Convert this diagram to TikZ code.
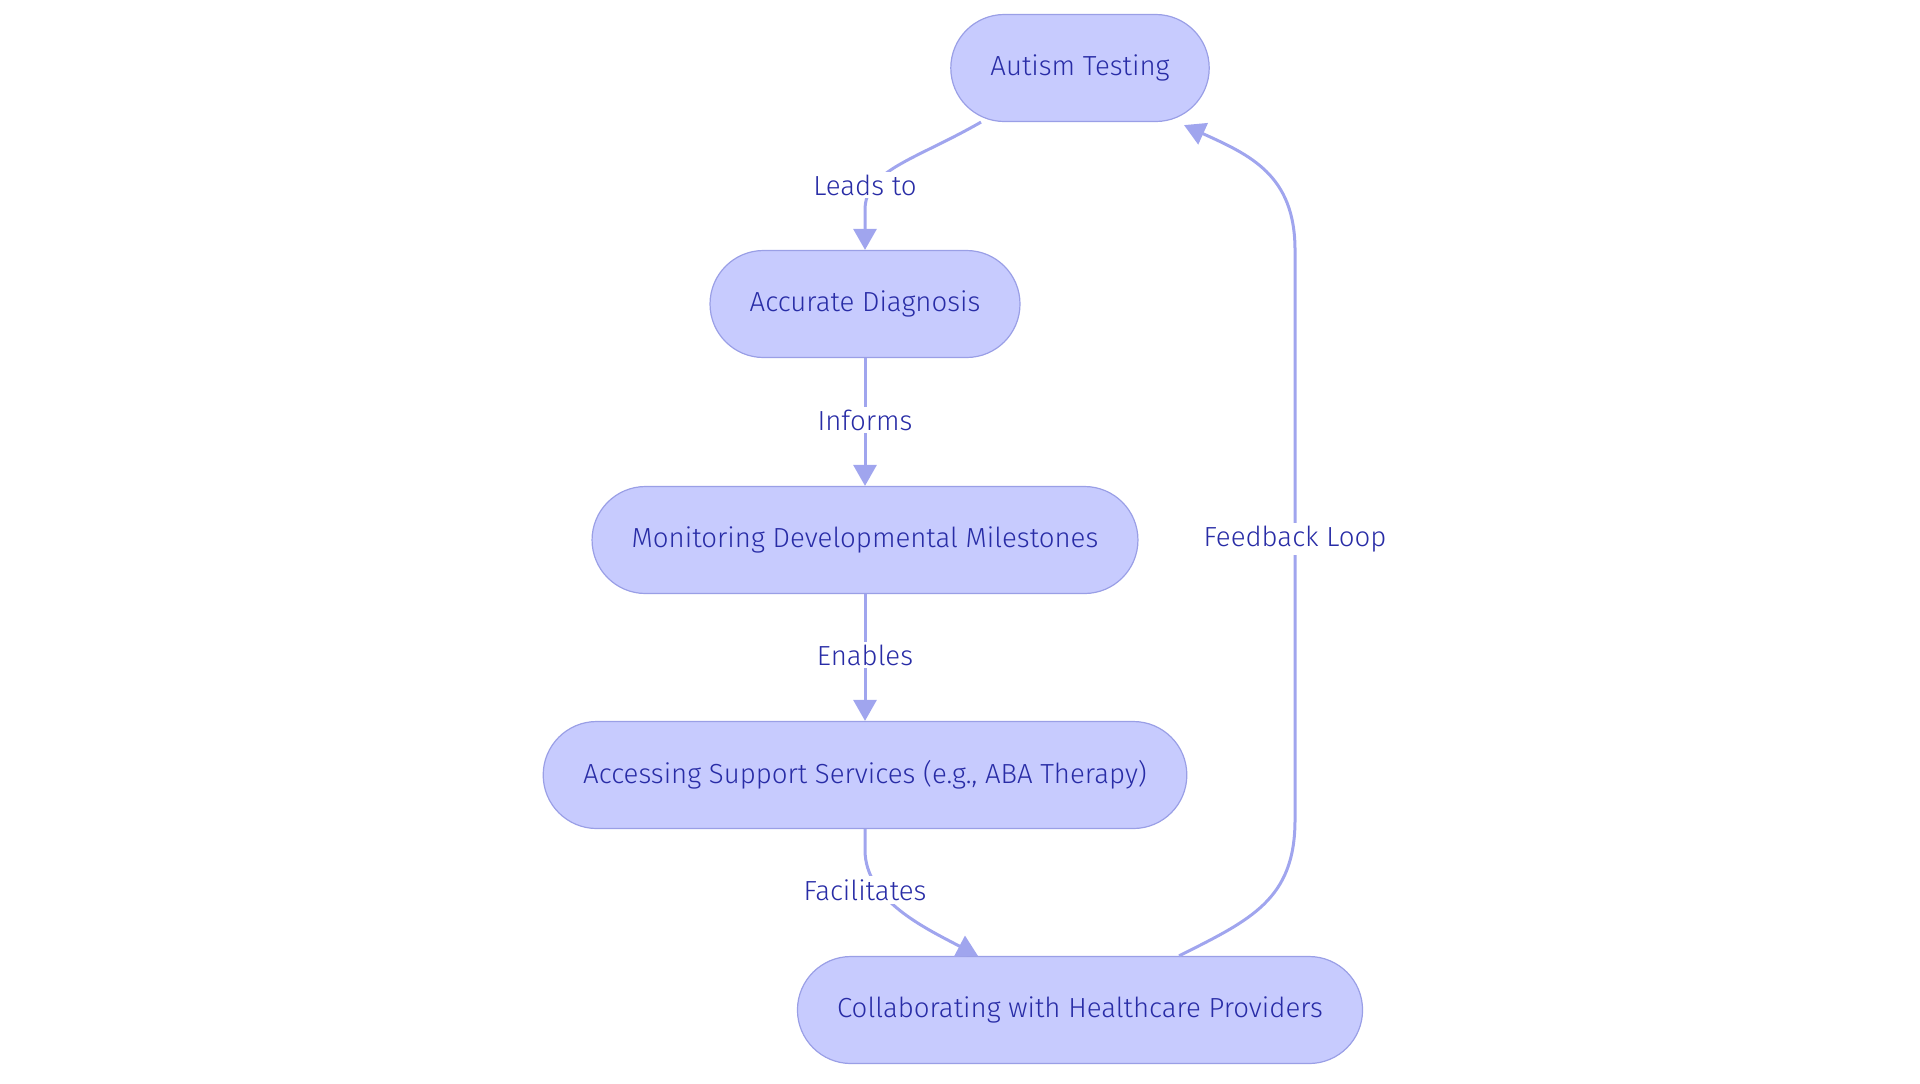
\documentclass[tikz,border=0pt]{standalone}
\usepackage{fontspec}
\setmainfont{Fira Sans}[UprightFont=* Light]
\usetikzlibrary{shapes.misc,arrows.meta}

\definecolor{boxfill}{HTML}{C7CBFE}
\definecolor{boxline}{HTML}{9A9FE6}
\definecolor{edgeline}{HTML}{A0A5EE}
\definecolor{labeltext}{HTML}{282CA6}

\tikzset{
    stepnode/.style={rounded rectangle, draw=boxline, fill=boxfill, line width=0.6pt,
        minimum height=53.5pt, inner xsep=19pt, text=labeltext,
        font=\fontsize{13.8}{16}\selectfont},
    flow/.style={draw=edgeline, line width=1.5pt, -{Triangle[length=10.5pt,width=11.5pt]}},
    flowlabel/.style={fill=white, text=labeltext, inner sep=1.5pt,
        font=\fontsize{13.8}{16}\selectfont}
}

\begin{document}
\begin{tikzpicture}[x=0.5pt, y=-0.5pt]
    % page frame
    \useasboundingbox (0,0) rectangle (1920,1083);

    % the boxes of the flow
    \node[stepnode] (autism) at (1080, 68) {Autism Testing};
    \node[stepnode] (diagnosis) at (865, 304) {Accurate Diagnosis};
    \node[stepnode] (milestones) at (865, 540) {Monitoring Developmental Milestones};
    \node[stepnode] (support) at (865, 775) {Accessing Support Services (e.g., ABA Therapy)};
    \node[stepnode] (providers) at (1080, 1010) {Collaborating with Healthcare Providers};

    % Testing -> Diagnosis
    \draw[flow] ([xshift=-49.5pt]autism.south) .. controls (915, 160) and (865, 170) .. (865, 210)
        -- (diagnosis.north);
    \node[flowlabel] (leads) at (865, 185) {Leads to};

    % Diagnosis -> Milestones
    \draw[flow] (diagnosis.south) -- (milestones.north);
    \node[flowlabel] (informs) at (865, 420) {Informs};

    % Milestones -> Support
    \draw[flow] (milestones.south) -- (support.north);
    \node[flowlabel] (enables) at (865, 655) {Enables};

    % Support -> Providers
    \draw[flow] (support.south) -- (865, 850) .. controls (865, 900) and (925, 928) .. ([xshift=-51pt]providers.north);
    \node[flowlabel] (facilitates) at (865, 890) {Facilitates};

    % Providers -> Testing, the loop back
    \draw[flow] ([xshift=49.5pt]providers.north) .. controls (1250, 920) and (1295, 900) .. (1295, 820)
        -- (1295, 250) .. controls (1295, 175) and (1250, 155) .. ([xshift=52pt, yshift=-1.5pt]autism.south);
    \node[flowlabel] (feedback) at (1295, 539) {Feedback Loop};
\end{tikzpicture}
\end{document}
